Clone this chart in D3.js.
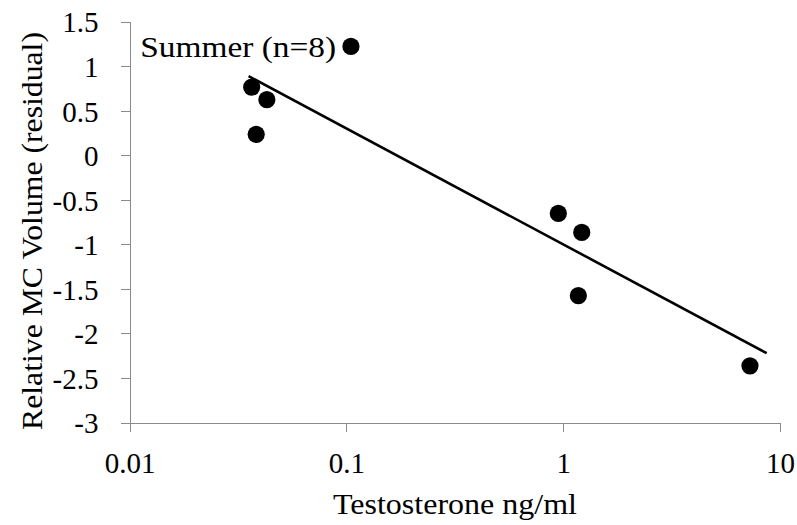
<!DOCTYPE html>
<html>
<head>
<meta charset="utf-8">
<script src="https://cdn.jsdelivr.net/npm/d3@7"></script>
<style>
  body { margin: 0; background: #fff; }
  svg text { font-family: "Liberation Serif", Tinos, "Times New Roman", "DejaVu Serif", serif !important; fill: #000; }
</style>
</head>
<body>
<svg id="chart" width="797" height="525"></svg>
<script>
// testosterone (ng/ml) vs residual MC volume, summer sample
var testo = [0.105, 0.0366, 0.043, 0.0384, 0.95, 1.218, 1.175, 7.27];
var resid = [1.22, 0.764, 0.623, 0.234, -0.654, -0.867, -1.577, -2.364];

// fitted trend line end points
var trendX = [0.0354, 8.68];
var trendY = [0.887, -2.222];

var xTicks = [0.01, 0.1, 1, 10];
var xTickLabels = ['0.01', '0.1', '1', '10'];
var yTicks = [1.5, 1, 0.5, 0, -0.5, -1, -1.5, -2, -2.5, -3];
var yTickLabels = ['1.5', '1', '0.5', '0', '-0.5', '-1', '-1.5', '-2', '-2.5', '-3'];

var svg = d3.select('#chart');
var axisColor = '#8a8a8a';
var fontSize = 29;
var serif = '"Liberation Serif", Tinos, "Times New Roman", "DejaVu Serif", serif';

var x = d3.scaleLog().domain([0.01, 10]).range([129.5, 780]);
var y = d3.scaleLinear().domain([-3, 1.5]).range([422.5, 21.5]);

// y axis
var yAxis = svg.append('g')
    .attr('transform', 'translate(' + x(0.01) + ',0)')
    .call(d3.axisLeft(y).tickValues(yTicks)
        .tickFormat(function(d, i) { return yTickLabels[i]; })
        .tickSize(9).tickSizeOuter(0).tickPadding(22));
yAxis.attr('font-family', serif);
yAxis.selectAll('path, line').attr('stroke', axisColor).attr('shape-rendering', 'crispEdges');
yAxis.selectAll('text')
    .attr('font-size', fontSize)
    .attr('dy', '0.36em')
    .attr('fill', '#000');

// x axis
var xAxis = svg.append('g')
    .attr('transform', 'translate(0,' + y(-3) + ')')
    .call(d3.axisBottom(x).tickValues(xTicks)
        .tickFormat(function(d, i) { return xTickLabels[i]; })
        .tickSize(9).tickSizeOuter(0));
xAxis.attr('font-family', serif);
xAxis.selectAll('path, line').attr('stroke', axisColor).attr('shape-rendering', 'crispEdges');
xAxis.selectAll('text')
    .attr('font-size', fontSize)
    .attr('y', 50).attr('dy', 0)
    .attr('fill', '#000');

// trend line
var line = d3.line()
    .x(function(d) { return x(d[0]); })
    .y(function(d) { return y(d[1]); });
svg.append('path')
    .datum(d3.zip(trendX, trendY))
    .attr('d', line)
    .attr('fill', 'none')
    .attr('stroke', '#000')
    .attr('stroke-width', 2.6);

// points
svg.selectAll('circle.pt')
    .data(d3.zip(testo, resid))
    .enter().append('circle')
    .attr('class', 'pt')
    .attr('cx', function(d) { return x(d[0]); })
    .attr('cy', function(d) { return y(d[1]); })
    .attr('r', 8.6)
    .attr('fill', '#000');

// annotation
svg.append('text')
    .attr('x', x(0.0112))
    .attr('y', y(1.1))
    .attr('font-size', fontSize)
    .attr('font-family', serif)
    .attr('textLength', 196)
    .attr('lengthAdjust', 'spacingAndGlyphs')
    .text('Summer (n=8)');

// axis titles
svg.append('text')
    .attr('x', 455)
    .attr('y', 514)
    .attr('text-anchor', 'middle')
    .attr('font-size', fontSize)
    .attr('font-family', serif)
    .attr('textLength', 244)
    .attr('lengthAdjust', 'spacingAndGlyphs')
    .text('Testosterone ng/ml');

svg.append('text')
    .attr('transform', 'translate(42,231) rotate(-90)')
    .attr('text-anchor', 'middle')
    .attr('font-size', fontSize)
    .attr('font-family', serif)
    .attr('textLength', 398)
    .attr('lengthAdjust', 'spacingAndGlyphs')
    .text('Relative MC Volume (residual)');
</script>
</body>
</html>
